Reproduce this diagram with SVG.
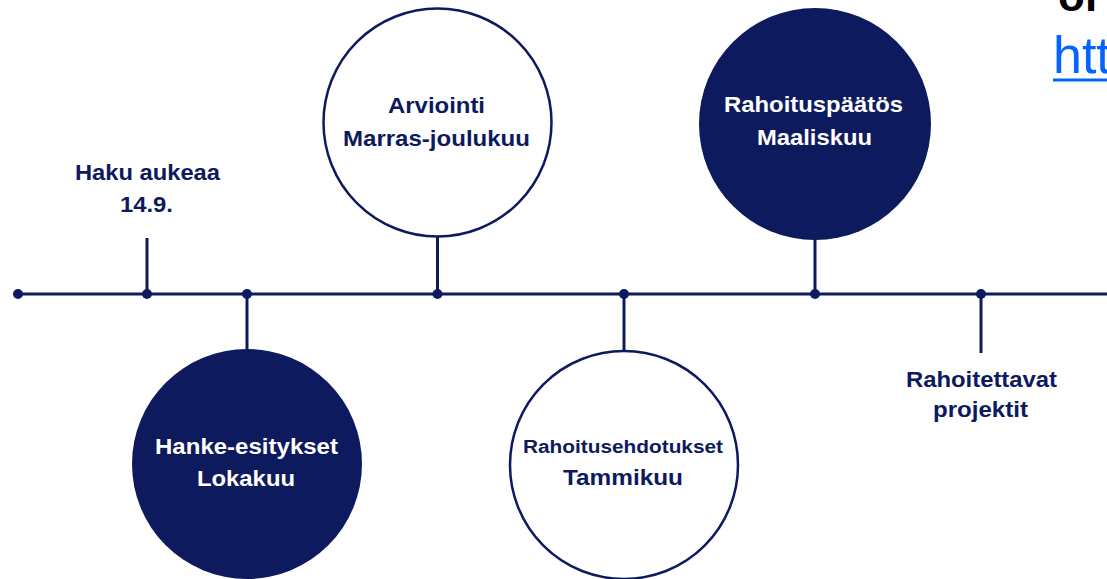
<svg xmlns="http://www.w3.org/2000/svg" width="1107" height="579" viewBox="0 0 1107 579">
<style>
.t{font-family:"Liberation Sans",Arial,sans-serif;font-weight:bold;font-size:22px;text-anchor:middle}
.d{fill:#0d1a5e}
.w{fill:#ffffff}
.o{fill:#ffffff;stroke:#0d1a5e;stroke-width:2.5}
.f{fill:#0d1a5e}
.ln{stroke:#0d1a5e;stroke-width:3;fill:none}
</style>
<rect width="1107" height="579" fill="#ffffff"/>
<g id="connectors">
<line class="ln" x1="18" y1="294" x2="1107" y2="294"/>
<line class="ln" x1="147" y1="238" x2="147" y2="294"/>
<line class="ln" x1="247" y1="294" x2="247" y2="350"/>
<line class="ln" x1="437.5" y1="236" x2="437.5" y2="294"/>
<line class="ln" x1="624" y1="294" x2="624" y2="352"/>
<line class="ln" x1="815" y1="239" x2="815" y2="294"/>
<line class="ln" x1="981" y1="294" x2="981" y2="353"/>
<g class="f">
<circle cx="18" cy="294" r="5"/>
<circle cx="147" cy="294" r="5"/>
<circle cx="247" cy="294" r="5"/>
<circle cx="437.5" cy="294" r="5"/>
<circle cx="624" cy="294" r="5"/>
<circle cx="815" cy="294" r="5"/>
<circle cx="981" cy="294" r="5"/>
</g>
</g>
<g id="haku">
<text class="t d" x="147.5" y="180" textLength="145" lengthAdjust="spacingAndGlyphs">Haku aukeaa</text>
<text class="t d" x="146.5" y="212" textLength="53" lengthAdjust="spacingAndGlyphs">14.9.</text>
</g>
<g id="hanke">
<circle cx="247" cy="464" r="115" class="f"/>
<text class="t w" x="246.5" y="454" textLength="183" lengthAdjust="spacingAndGlyphs">Hanke-esitykset</text>
<text class="t w" x="246" y="486" textLength="98" lengthAdjust="spacingAndGlyphs">Lokakuu</text>
</g>
<g id="arviointi">
<circle cx="437.5" cy="122.5" r="114" class="o"/>
<text class="t d" x="436.5" y="113" textLength="97" lengthAdjust="spacingAndGlyphs">Arviointi</text>
<text class="t d" x="436.5" y="146" textLength="187" lengthAdjust="spacingAndGlyphs">Marras-joulukuu</text>
</g>
<g id="rahoitusehdotukset">
<circle cx="624" cy="465" r="114" class="o"/>
<text class="t d" x="623" y="453" style="font-size:18px" textLength="200" lengthAdjust="spacingAndGlyphs">Rahoitusehdotukset</text>
<text class="t d" x="623" y="485" textLength="120" lengthAdjust="spacingAndGlyphs">Tammikuu</text>
</g>
<g id="rahoituspaatos">
<circle cx="815" cy="124" r="116" class="f"/>
<text class="t w" x="813.5" y="112" textLength="179" lengthAdjust="spacingAndGlyphs">Rahoituspäätös</text>
<text class="t w" x="814.5" y="145" textLength="115" lengthAdjust="spacingAndGlyphs">Maaliskuu</text>
</g>
<g id="rahoitettavat">
<text class="t d" x="981.5" y="387" textLength="151" lengthAdjust="spacingAndGlyphs">Rahoitettavat</text>
<text class="t d" x="980.5" y="417" textLength="95" lengthAdjust="spacingAndGlyphs">projektit</text>
</g>
<g id="corner">
<text x="1058" y="11" style="font-family:'Liberation Sans',Arial,sans-serif;font-weight:bold;font-size:44px" fill="#000000">or</text>
<text x="1053" y="73" style="font-family:'Liberation Sans',Arial,sans-serif;font-size:52px" fill="#0563ff">htt</text>
<line x1="1053" y1="80" x2="1107" y2="80" stroke="#0563ff" stroke-width="3"/>
</g>
</svg>
